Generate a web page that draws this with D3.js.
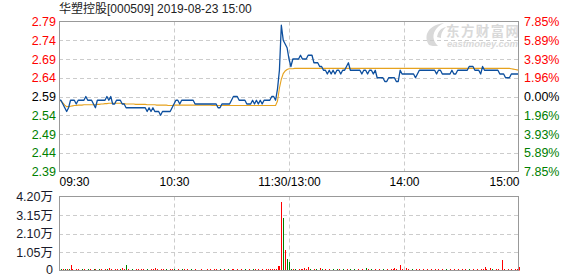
<!DOCTYPE html>
<html>
<head>
<meta charset="utf-8">
<script src="https://cdn.jsdelivr.net/npm/d3@7/dist/d3.min.js"></script>
<style>
  body { margin: 0; background: #fff; }
  svg { display: block; font-family: "Liberation Sans", Arial, "Noto Sans CJK SC", sans-serif; }
</style>
</head>
<body>
<svg id="chart" width="578" height="276"></svg>
<script>
const title = "华塑控股[000509] 2019-08-23 15:00";

const timeTicks = [0, 60, 120, 180, 240];
const timeLabels = ["09:30", "10:30", "11:30/13:00", "14:00", "15:00"];

const priceTicks = [2.79, 2.74, 2.69, 2.64, 2.59, 2.54, 2.49, 2.44, 2.39];
const priceLabels = ["2.79", "2.74", "2.69", "2.64", "2.59", "2.54", "2.49", "2.44", "2.39"];
const pctLabels = ["7.85%", "5.89%", "3.93%", "1.96%", "0.00%", "1.96%", "3.93%", "5.89%", "7.85%"];

const volTicks = [0, 10500, 21000, 31500, 42000];
const volLabels = ["0", "1.05万", "2.10万", "3.15万", "4.20万"];

// one value per minute, 09:30 .. 11:30 / 13:01 .. 15:00
const prices = [
  2.58,2.58,2.57,2.56,2.55,2.56,2.58,2.58,2.58,2.57,
  2.58,2.58,2.58,2.58,2.59,2.58,2.58,2.58,2.57,2.56,
  2.58,2.58,2.58,2.58,2.58,2.59,2.58,2.59,2.57,2.57,
  2.58,2.58,2.58,2.57,2.57,2.56,2.56,2.56,2.56,2.56,
  2.56,2.56,2.56,2.56,2.56,2.56,2.55,2.56,2.55,2.56,
  2.55,2.55,2.55,2.54,2.55,2.55,2.55,2.55,2.55,2.56,
  2.57,2.58,2.58,2.57,2.58,2.58,2.58,2.58,2.58,2.58,
  2.58,2.57,2.57,2.57,2.57,2.57,2.57,2.57,2.57,2.57,
  2.57,2.57,2.57,2.56,2.56,2.57,2.57,2.57,2.57,2.57,
  2.58,2.59,2.59,2.59,2.58,2.58,2.58,2.58,2.57,2.57,
  2.57,2.58,2.57,2.58,2.57,2.58,2.57,2.58,2.58,2.58,
  2.58,2.59,2.59,2.58,2.61,2.66,2.78,2.74,2.73,2.72,
  2.69,2.67,2.69,2.69,2.69,2.69,2.70,2.69,2.69,2.69,
  2.70,2.70,2.70,2.68,2.68,2.68,2.67,2.67,2.66,2.66,
  2.65,2.66,2.65,2.66,2.65,2.66,2.66,2.65,2.66,2.66,
  2.67,2.68,2.66,2.66,2.66,2.66,2.66,2.66,2.65,2.66,
  2.66,2.65,2.66,2.66,2.65,2.66,2.64,2.64,2.64,2.64,
  2.63,2.63,2.64,2.64,2.64,2.64,2.63,2.63,2.66,2.65,
  2.65,2.65,2.65,2.65,2.65,2.65,2.64,2.65,2.66,2.66,
  2.66,2.66,2.66,2.66,2.66,2.66,2.66,2.65,2.66,2.66,
  2.65,2.65,2.65,2.65,2.65,2.66,2.65,2.65,2.66,2.66,
  2.66,2.66,2.66,2.66,2.67,2.67,2.67,2.66,2.66,2.66,
  2.65,2.67,2.66,2.66,2.66,2.66,2.66,2.66,2.66,2.66,
  2.65,2.65,2.65,2.64,2.64,2.64,2.65,2.65,2.65,2.65,
  2.65
];

const avgPrices = [
  2.580,2.578,2.573,2.567,2.563,2.563,2.564,2.565,2.566,2.566,
  2.567,2.567,2.567,2.568,2.568,2.568,2.568,2.568,2.568,2.568,
  2.569,2.569,2.570,2.570,2.571,2.571,2.572,2.572,2.572,2.572,
  2.572,2.572,2.572,2.571,2.571,2.570,2.570,2.570,2.570,2.570,
  2.569,2.569,2.569,2.569,2.569,2.569,2.568,2.568,2.568,2.568,
  2.568,2.567,2.567,2.567,2.567,2.567,2.567,2.566,2.566,2.566,
  2.567,2.567,2.567,2.567,2.567,2.567,2.567,2.567,2.567,2.567,
  2.567,2.567,2.567,2.567,2.567,2.567,2.567,2.567,2.567,2.567,
  2.566,2.566,2.566,2.566,2.566,2.566,2.566,2.566,2.566,2.566,
  2.566,2.566,2.566,2.566,2.566,2.566,2.566,2.566,2.566,2.566,
  2.566,2.566,2.566,2.566,2.566,2.566,2.566,2.566,2.566,2.566,
  2.566,2.566,2.566,2.566,2.578,2.612,2.636,2.651,2.658,2.662,
  2.664,2.664,2.664,2.665,2.665,2.665,2.665,2.665,2.665,2.665,
  2.665,2.665,2.665,2.665,2.665,2.665,2.665,2.665,2.665,2.665,
  2.665,2.665,2.665,2.665,2.665,2.665,2.665,2.665,2.665,2.665,
  2.665,2.665,2.665,2.665,2.665,2.665,2.665,2.665,2.665,2.665,
  2.665,2.665,2.665,2.665,2.665,2.665,2.665,2.665,2.665,2.665,
  2.665,2.665,2.665,2.665,2.665,2.665,2.665,2.665,2.665,2.665,
  2.665,2.665,2.665,2.665,2.665,2.665,2.665,2.665,2.665,2.665,
  2.665,2.665,2.665,2.665,2.665,2.665,2.665,2.665,2.665,2.665,
  2.665,2.665,2.665,2.665,2.665,2.665,2.665,2.665,2.665,2.665,
  2.665,2.665,2.665,2.665,2.665,2.665,2.665,2.665,2.665,2.665,
  2.665,2.665,2.665,2.665,2.665,2.665,2.665,2.665,2.665,2.665,
  2.665,2.665,2.665,2.665,2.665,2.665,2.664,2.663,2.662,2.661,
  2.660
];

const volumes = [
  900,600,700,800,600,700,3400,600,500,700,
  600,500,700,600,500,600,700,500,600,800,
  500,600,700,500,600,700,1300,600,500,700,
  600,500,600,1700,700,3400,600,500,600,500,
  700,600,500,600,700,500,600,500,700,600,
  1700,600,500,700,600,500,600,500,600,700,
  600,500,600,500,700,600,500,600,500,600,
  500,600,500,0,600,500,0,600,500,600,
  500,600,700,500,600,500,600,500,600,500,
  600,700,500,600,500,600,500,600,500,600,
  500,600,700,500,600,500,600,500,600,700,
  600,700,800,900,2300,2800,38800,29700,11900,6600,
  5100,800,700,600,500,600,700,600,1200,600,
  1900,600,500,600,700,500,1200,600,500,600,
  500,600,500,600,500,600,700,500,600,500,
  600,500,600,500,600,500,600,500,600,500,
  1200,600,500,600,500,600,500,600,500,600,
  500,600,500,600,700,1200,600,500,3400,600,
  500,1200,600,500,600,500,600,500,600,500,
  600,500,600,500,600,500,600,500,600,500,
  600,500,600,500,600,500,600,500,600,500,
  600,500,600,500,600,500,600,500,600,500,
  600,700,1900,600,500,1200,600,500,900,600,
  500,5700,600,500,600,500,600,500,600,700,
  1900
];

// r = up minute (red bar), g = down minute (green bar)
const volColors = (
  "ggrgrgrrgr" + "rrgrrgrrgr" + "rgrrrgrrgr" + "rrgrrgrrgr" +
  "rrgrrrgrrr" + "rrgrrrgrrr" + "grrrgrrrrg" + "rrrgrrgrrr" +
  "grrrgrrrgr" + "rrgrrrrgrr" + "rgrrrgrrrr" + "rrrrrrrgrg" +
  "ggrggrrrrr" + "rgrrgrrgrr" + "grrgrgrrgr" + "rrgrgrrgrg" +
  "grrgrrgrrg" + "rrgrrrrgrr" + "rrrrgrrrrr" + "rrrgrrrrrr" +
  "rrgrrrrrrr" + "rrrrgrrrrr" + "rrrrrrgrrr" + "rrrrrgrrrr" + "r"
).split("");

const red = "#ff0000", green = "#008000";

const svg = d3.select("#chart");
const left = 59, right = 519;
const priceTop = 21.5, priceBottom = 171.5;
const volTop = 196.5, volBottom = 270.5;

const x = d3.scaleLinear().domain([0, 240]).range([left, right]);
const y = d3.scaleLinear().domain([2.39, 2.79]).range([priceBottom, priceTop]);
const yVol = d3.scaleLinear().domain([0, 42000]).range([volBottom, volTop]);

function labelColor(i) {
  if (i < 4) return red;
  if (i === 4) return "#000";
  return green;
}

// title
svg.append("text")
  .attr("x", left)
  .attr("y", 13)
  .attr("font-size", 12)
  .attr("fill", "#222")
  .text(title);

// watermark
const wm = svg.append("g").attr("fill", "#d9d9d9");
wm.append("path")
  .attr("d", "M429,45 C423,36 428,25 444,23 C436,27 432,33 434,40 C435,43 437,45 438,46 C434,46 431,46 429,45 Z");
wm.append("path")
  .attr("d", "M437,37 C438,31 441,28 446,27 C442,31 441,34 441,38 Z");
wm.append("text")
  .attr("x", 446).attr("y", 35.5)
  .attr("font-size", 13.5)
  .attr("font-weight", "bold")
  .attr("font-family", "Noto Sans CJK SC")
  .attr("textLength", 73)
  .text("东方财富网");
wm.append("text")
  .attr("x", 447).attr("y", 47)
  .attr("font-size", 9.5)
  .attr("font-weight", "bold")
  .attr("font-style", "italic")
  .attr("textLength", 71)
  .text("eastmoney.com");

// grid
const grid = svg.append("g")
  .attr("stroke", "#cccccc")
  .attr("stroke-dasharray", "4,3")
  .attr("fill", "none");

grid.selectAll(".hp")
  .data(priceTicks.slice(1, -1))
  .enter()
  .append("line")
  .attr("x1", left).attr("x2", right)
  .attr("y1", d => Math.round(y(d)) + 0.5)
  .attr("y2", d => Math.round(y(d)) + 0.5);

grid.selectAll(".hv")
  .data(volTicks.slice(1, -1))
  .enter()
  .append("line")
  .attr("x1", left).attr("x2", right)
  .attr("y1", d => Math.round(yVol(d)) + 0.5)
  .attr("y2", d => Math.round(yVol(d)) + 0.5);

[[priceTop, priceBottom], [volTop, volBottom]].forEach(([t, b]) => {
  grid.selectAll(null)
    .data(timeTicks.slice(1, -1))
    .enter()
    .append("line")
    .attr("x1", d => Math.round(x(d)) + 0.5)
    .attr("x2", d => Math.round(x(d)) + 0.5)
    .attr("y1", t).attr("y2", b);
});

// axes
const axisLeft = svg.append("g")
  .attr("transform", "translate(" + left + ",0)")
  .call(d3.axisLeft(y).tickValues(priceTicks).tickSize(0).tickPadding(3)
    .tickFormat((d, i) => priceLabels[i]));

const axisRight = svg.append("g")
  .attr("transform", "translate(" + right + ",0)")
  .call(d3.axisRight(y).tickValues(priceTicks).tickSize(0).tickPadding(5)
    .tickFormat((d, i) => pctLabels[i]));

[axisLeft, axisRight].forEach(g => {
  g.select(".domain").remove();
  g.selectAll("text")
    .attr("font-size", 12.5)
    .attr("font-family", "Liberation Sans, Arial, sans-serif")
    .attr("fill", (d, i) => labelColor(i));
});

const axisTime = svg.append("g")
  .attr("transform", "translate(0," + priceBottom + ")")
  .call(d3.axisBottom(x).tickValues(timeTicks).tickSize(0).tickPadding(6)
    .tickFormat((d, i) => timeLabels[i]));
axisTime.select(".domain").remove();
axisTime.selectAll("text")
  .attr("font-size", 12)
  .attr("font-family", "Liberation Sans, Arial, sans-serif")
  .attr("fill", "#000")
  .attr("text-anchor", (d, i) => i === 0 ? "start" : (i === timeTicks.length - 1 ? "end" : "middle"));

const axisVol = svg.append("g")
  .attr("transform", "translate(" + left + ",0)")
  .call(d3.axisLeft(yVol).tickValues(volTicks).tickSize(0).tickPadding(6)
    .tickFormat((d, i) => volLabels[i]));
axisVol.select(".domain").remove();
axisVol.selectAll("text")
  .attr("font-size", 12.5)
  .attr("font-family", "Liberation Sans, Arial, Noto Sans CJK SC, sans-serif")
  .attr("fill", "#1a1a2a")
  .attr("dy", (d, i) => i === 0 ? "0.2em" : "0.32em");

// volume bars, drawn as 1px vertical strokes
svg.append("g")
  .selectAll("line")
  .data(volumes)
  .enter()
  .append("line")
  .attr("x1", (d, i) => Math.round(x(i)) + 0.5)
  .attr("x2", (d, i) => Math.round(x(i)) + 0.5)
  .attr("y1", volBottom)
  .attr("y2", d => Math.round(yVol(d)))
  .attr("stroke-width", 1)
  .attr("stroke", (d, i) => volColors[i] === "r" ? red : green);

// average and price lines
const line = d3.line()
  .x((d, i) => x(i))
  .y(d => y(d));

svg.append("path")
  .datum(avgPrices)
  .attr("d", line)
  .attr("fill", "none")
  .attr("stroke", "#e6a21e")
  .attr("stroke-width", 1.1);

svg.append("path")
  .datum(prices)
  .attr("d", line)
  .attr("fill", "none")
  .attr("stroke", "#0d4f9e")
  .attr("stroke-width", 1.3)
  .attr("stroke-linejoin", "round");

// frames
[[priceTop, priceBottom], [volTop, volBottom]].forEach(([t, b]) => {
  svg.append("rect")
    .attr("x", left + 0.5)
    .attr("y", t)
    .attr("width", right - left - 1)
    .attr("height", b - t)
    .attr("fill", "none")
    .attr("stroke", "#999999");
});
</script>
</body>
</html>
